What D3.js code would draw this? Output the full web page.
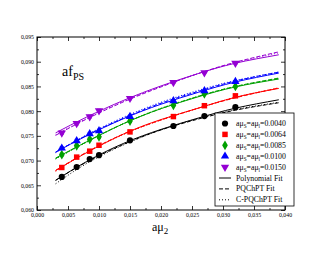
<!DOCTYPE html>
<html>
<head>
<meta charset="utf-8">
<script src="https://cdn.jsdelivr.net/npm/d3@7"></script>
<style>
  body { margin: 0; background: #fff; }
  svg text { font-family: "Liberation Serif", "DejaVu Serif", serif; }
</style>
</head>
<body>
<div id="chart"></div>
<script>
// quark masses on the x axis
var xVals = [0.0040, 0.0064, 0.0085, 0.0100, 0.0150, 0.0220, 0.0270, 0.0320];

// af_PS per sea/strange mass
var seriesNames = ["0.0040", "0.0064", "0.0085", "0.0100", "0.0150"];
var yBlack  = [0.0667, 0.0687, 0.0703, 0.0711, 0.0741, 0.0770, 0.0790, 0.0808];
var yRed    = [0.0686, 0.0707, 0.0719, 0.0731, 0.0758, 0.0789, 0.0811, 0.0831];
var yGreen  = [0.0712, 0.0730, 0.0743, 0.0748, 0.0780, 0.0812, 0.0835, 0.0850];
var yBlue   = [0.0725, 0.0740, 0.0754, 0.0760, 0.0789, 0.0821, 0.0841, 0.0860];
var yPurple = [0.0756, 0.0775, 0.0789, 0.0801, 0.0826, 0.0858, 0.0878, 0.0897];
var yErr    = [0.0003, 0.0003, 0.0003, 0.0003, 0.0003, 0.0002, 0.0002, 0.0002];

// fit curves
var fitX = [0.003, 0.008, 0.014, 0.020, 0.026, 0.032, 0.039];
var polyFit = [
  [0.0660, 0.0698, 0.0735, 0.0763, 0.0786, 0.0806, 0.0823],
  [0.0680, 0.0716, 0.0754, 0.0783, 0.0806, 0.0828, 0.0846],
  [0.0705, 0.0738, 0.0775, 0.0805, 0.0829, 0.0849, 0.0865],
  [0.0717, 0.0750, 0.0785, 0.0814, 0.0838, 0.0859, 0.0877],
  [0.0756, 0.0788, 0.0822, 0.0851, 0.0876, 0.0897, 0.0914]
];
var pqFit = [
  [0.0660, 0.0697, 0.0733, 0.0762, 0.0784, 0.0802, 0.0817],
  [0.0680, 0.0717, 0.0754, 0.0782, 0.0806, 0.0827, 0.0847],
  [0.0704, 0.0738, 0.0775, 0.0805, 0.0830, 0.0850, 0.0867],
  [0.0717, 0.0751, 0.0786, 0.0816, 0.0840, 0.0861, 0.0879],
  [0.0751, 0.0784, 0.0819, 0.0849, 0.0876, 0.0899, 0.0920]
];
var cpqFit = [
  [0.0653, 0.0694, 0.0732, 0.0762, 0.0785, 0.0803, 0.0818],
  [0.0678, 0.0716, 0.0753, 0.0782, 0.0806, 0.0828, 0.0847],
  [0.0703, 0.0737, 0.0775, 0.0806, 0.0830, 0.0850, 0.0866],
  [0.0716, 0.0752, 0.0788, 0.0818, 0.0842, 0.0862, 0.0879],
  [0.0752, 0.0785, 0.0820, 0.0850, 0.0876, 0.0898, 0.0918]
];

var xTicks = [0.000, 0.005, 0.010, 0.015, 0.020, 0.025, 0.030, 0.035, 0.040];
var yTicks = [0.060, 0.065, 0.070, 0.075, 0.080, 0.085, 0.090, 0.095];

var colors = ["#000000", "#ff0000", "#00a000", "#0000ff", "#9400d3"];
var allY = [yBlack, yRed, yGreen, yBlue, yPurple];

var width = 330, height = 255;
var margin = {left: 37, right: 45, top: 37, bottom: 45};

var svg = d3.select("#chart").append("svg")
  .attr("width", width)
  .attr("height", height);

var x = d3.scaleLinear().domain([0, 0.04]).range([margin.left, width - margin.right]);
var y = d3.scaleLinear().domain([0.06, 0.095]).range([height - margin.bottom, margin.top]);

var fmt = function(d) { return d3.format(".3f")(d).replace(".", ","); };

// frame
svg.append("rect")
  .attr("x", x(0)).attr("y", y(0.095))
  .attr("width", x(0.04) - x(0)).attr("height", y(0.06) - y(0.095))
  .attr("fill", "none").attr("stroke", "#000").attr("stroke-width", 1);

// inward ticks on all four sides
function ticksFor(axis, scale, minor) {
  return axis(scale).tickValues(minor).tickFormat("").tickSizeInner(-2).tickSizeOuter(0);
}
var xMinor = d3.range(0.0025, 0.04, 0.005);
var yMinor = d3.range(0.0625, 0.095, 0.005);

svg.append("g").attr("transform", "translate(0," + y(0.06) + ")")
  .call(d3.axisBottom(x).tickValues(xTicks).tickFormat(fmt).tickSizeInner(-4).tickSizeOuter(0).tickPadding(3));
svg.append("g").attr("transform", "translate(0," + y(0.06) + ")").call(ticksFor(d3.axisBottom, x, xMinor));
svg.append("g").attr("transform", "translate(0," + y(0.095) + ")")
  .call(d3.axisTop(x).tickValues(xTicks).tickFormat("").tickSizeInner(-4).tickSizeOuter(0));
svg.append("g").attr("transform", "translate(0," + y(0.095) + ")").call(ticksFor(d3.axisTop, x, xMinor));

svg.append("g").attr("transform", "translate(" + x(0) + ",0)")
  .call(d3.axisLeft(y).tickValues(yTicks).tickFormat(fmt).tickSizeInner(-4).tickSizeOuter(0).tickPadding(3));
svg.append("g").attr("transform", "translate(" + x(0) + ",0)").call(ticksFor(d3.axisLeft, y, yMinor));
svg.append("g").attr("transform", "translate(" + x(0.04) + ",0)")
  .call(d3.axisRight(y).tickValues(yTicks).tickFormat("").tickSizeInner(-4).tickSizeOuter(0));
svg.append("g").attr("transform", "translate(" + x(0.04) + ",0)").call(ticksFor(d3.axisRight, y, yMinor));

svg.selectAll(".domain").remove();
svg.selectAll(".tick line").attr("stroke", "#000").attr("stroke-width", 0.8);
svg.selectAll(".tick text")
  .style("font-family", "'Liberation Serif', serif")
  .style("font-size", "5.8px")
  .attr("fill", "#000");

// fit curves
var line = d3.line()
  .x(function(d) { return x(d[0]); })
  .y(function(d) { return y(d[1]); })
  .curve(d3.curveNatural);

var fitSets = [
  {data: polyFit, dash: null},
  {data: pqFit, dash: "4,2"},
  {data: cpqFit, dash: "1,2"}
];
fitSets.forEach(function(fs) {
  fs.data.forEach(function(vals, i) {
    svg.append("path")
      .datum(fitX.map(function(xv, k) { return [xv, vals[k]]; }))
      .attr("d", line)
      .attr("fill", "none")
      .attr("stroke", colors[i])
      .attr("stroke-width", 1)
      .attr("stroke-dasharray", fs.dash);
  });
});

// markers
var shapes = [
  {type: d3.symbolCircle, size: 30, rot: 0},
  {type: d3.symbolSquare, size: 30, rot: 0},
  {type: d3.symbolDiamond, size: 28, rot: 0},
  {type: d3.symbolTriangle, size: 30, rot: 0},
  {type: d3.symbolTriangle, size: 30, rot: 180}
];

allY.forEach(function(ys, i) {
  var g = svg.append("g");
  var pts = xVals.map(function(xv, k) { return {x: xv, y: ys[k], e: yErr[k]}; });
  g.selectAll(".err").data(pts).enter().append("path")
    .attr("d", function(d) {
      var cx = x(d.x), y1 = y(d.y - d.e), y2 = y(d.y + d.e);
      return "M" + cx + "," + y1 + "V" + y2 +
        "M" + (cx - 2) + "," + y1 + "H" + (cx + 2) +
        "M" + (cx - 2) + "," + y2 + "H" + (cx + 2);
    })
    .attr("stroke", colors[i]).attr("stroke-width", 0.8).attr("fill", "none");
  g.selectAll(".pt").data(pts).enter().append("path")
    .attr("d", d3.symbol().type(shapes[i].type).size(shapes[i].size))
    .attr("transform", function(d) {
      return "translate(" + x(d.x) + "," + y(d.y) + ") rotate(" + shapes[i].rot + ")";
    })
    .attr("fill", colors[i]);
});

// labels
var lab = svg.append("text").attr("x", 62).attr("y", 76).style("font-size", "14px");
lab.append("tspan").text("af");
lab.append("tspan").attr("dy", 4).style("font-size", "10px").text("PS");

var xl = svg.append("text").attr("x", 152).attr("y", 231).style("font-size", "12px");
xl.append("tspan").text("aμ");
xl.append("tspan").attr("dy", 3).style("font-size", "9px").text("2");

// legend
var lx = 215, ly = 113, rowH = 10.9;
svg.append("rect")
  .attr("x", lx).attr("y", ly).attr("width", 79).attr("height", 93)
  .attr("fill", "#fff").attr("stroke", "#000").attr("stroke-width", 0.8);

seriesNames.forEach(function(name, i) {
  var cy = ly + 10.5 + i * rowH;
  svg.append("path")
    .attr("d", d3.symbol().type(shapes[i].type).size(shapes[i].size))
    .attr("transform", "translate(" + (lx + 10) + "," + cy + ") rotate(" + shapes[i].rot + ")")
    .attr("fill", colors[i]);
  var t = svg.append("text").attr("x", lx + 21).attr("y", cy + 2.5).style("font-size", "7.8px");
  t.append("tspan").text("aμ");
  t.append("tspan").attr("dy", 2).style("font-size", "5.2px").text("S");
  t.append("tspan").attr("dy", -2).text("=aμ");
  t.append("tspan").attr("dy", 2).style("font-size", "5.2px").text("l");
  t.append("tspan").attr("dy", -2).text("=" + name);
});

var fitNames = ["Polynomial Fit", "PQChPT Fit", "C-PQChPT Fit"];
fitNames.forEach(function(name, i) {
  var cy = ly + 10.5 + (i + 5) * rowH;
  svg.append("line")
    .attr("x1", lx + 4).attr("x2", lx + 16).attr("y1", cy).attr("y2", cy)
    .attr("stroke", "#000").attr("stroke-width", 1)
    .attr("stroke-dasharray", fitSets[i].dash);
  svg.append("text").attr("x", lx + 21).attr("y", cy + 2.5).style("font-size", "7.8px").text(name);
});
</script>
</body>
</html>
